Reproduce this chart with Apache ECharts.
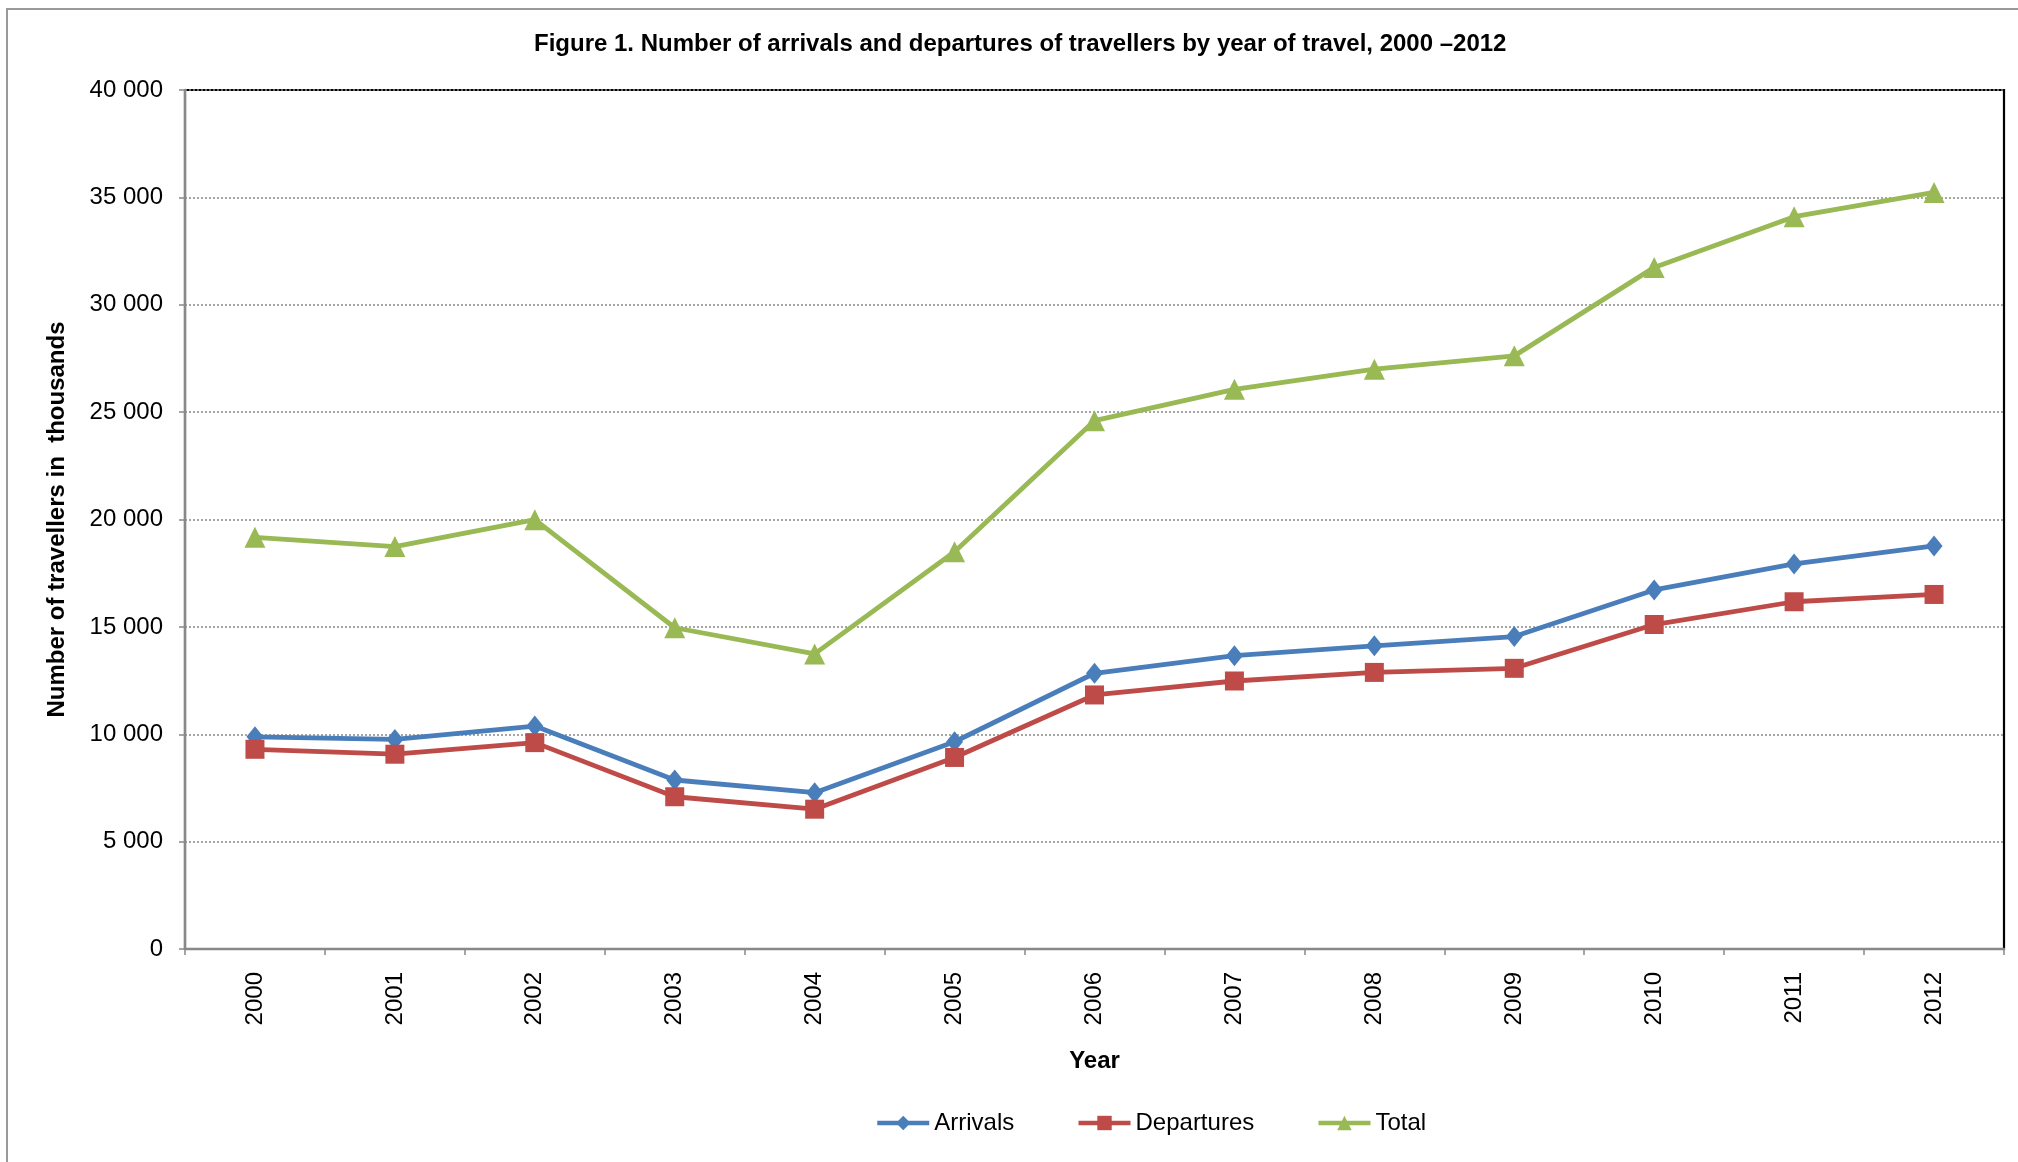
<!DOCTYPE html>
<html>
<head>
<meta charset="utf-8">
<script src="https://cdn.jsdelivr.net/npm/echarts@6/dist/echarts.min.js"></script>
<style>html,body{margin:0;padding:0;background:#fff;}#c{width:2018px;height:1162px;}</style>
</head>
<body>
<div id="c"></div>
<script>
const years = ['2000','2001','2002','2003','2004','2005','2006','2007','2008','2009','2010','2011','2012'];
const arrivals = [9880, 9760, 10380, 7870, 7280, 9650, 12840, 13660, 14120, 14550, 16720, 17930, 18770];
const departures = [9300, 9070, 9610, 7090, 6510, 8920, 11830, 12480, 12880, 13070, 15110, 16170, 16510];
const total = [19170, 18740, 19990, 14960, 13740, 18500, 24600, 26060, 27000, 27620, 31740, 34100, 35230];
const seriesNames = ['Arrivals', 'Departures', 'Total'];
const colors = ['#4A7EBB', '#BE4B48', '#98B954'];

const FONT = '"Liberation Sans", Arial, sans-serif';
const chart = echarts.init(document.getElementById('c'), null, {renderer: 'canvas'});
function fmt(v) {
  return String(v).replace(/\B(?=(\d{3})+(?!\d))/g, ' ');
}
function lineSeries(name, data, color, symbol, size) {
  return {
    name: name, type: 'line', data: data,
    symbol: symbol, symbolSize: size,
    lineStyle: {color: color, width: 4.8},
    itemStyle: {color: color},
    animation: false, z: 5
  };
}
chart.setOption({
  backgroundColor: '#fff',
  animation: false,
  textStyle: {fontFamily: FONT},
  title: {
    text: 'Figure 1. Number of arrivals and departures of travellers by year of travel, 2000 \u20132012',
    left: 529, top: 27,
    textStyle: {fontFamily: FONT, fontSize: 24, fontWeight: 'bold', color: '#000'}
  },
  graphic: [{
    type: 'rect', silent: true, z: -1,
    shape: {x: 7, y: 9, width: 2200, height: 1400},
    style: {fill: 'none', stroke: '#999', lineWidth: 2}
  }],
  legend: {
    data: seriesNames, bottom: 22, left: 870,
    itemWidth: 52, itemHeight: 18, itemGap: 62,
    lineStyle: {width: 4.5},
    textStyle: {fontFamily: FONT, fontSize: 24, color: '#000'}
  },
  grid: {
    left: 185, top: 90, right: 14, bottom: 213,
    show: true, borderColor: '#000', borderWidth: 2.2, backgroundColor: '#fff'
  },
  xAxis: {
    type: 'category', data: years, boundaryGap: true,
    name: 'Year', nameLocation: 'middle', nameGap: 100,
    nameTextStyle: {fontFamily: FONT, fontSize: 24, fontWeight: 'bold', color: '#000'},
    axisLine: {lineStyle: {color: '#888', width: 2.3}},
    axisTick: {show: true, length: 6, lineStyle: {color: '#888', width: 1.5}},
    axisLabel: {rotate: 90, margin: 23, fontFamily: FONT, fontSize: 24, color: '#000'}
  },
  yAxis: {
    type: 'value', min: 0, max: 40000, interval: 5000,
    name: 'Number of travellers in  thousands', nameLocation: 'middle', nameGap: 116,
    nameTextStyle: {fontFamily: FONT, fontSize: 24, fontWeight: 'bold', color: '#000'},
    axisLine: {show: true, lineStyle: {color: '#888', width: 2.3}},
    axisTick: {show: true, length: 6, lineStyle: {color: '#888', width: 1.5}},
    axisLabel: {margin: 22, fontFamily: FONT, fontSize: 24, color: '#000', formatter: fmt},
    splitLine: {show: true, lineStyle: {color: '#888', type: [2, 2], width: 1.5}}
  },
  series: [
    lineSeries(seriesNames[0], arrivals, colors[0], 'diamond', [17, 21]),
    lineSeries(seriesNames[1], departures, colors[1], 'rect', 19),
    lineSeries(seriesNames[2], total, colors[2], 'triangle', [21, 21])
  ]
});
</script>
</body>
</html>
